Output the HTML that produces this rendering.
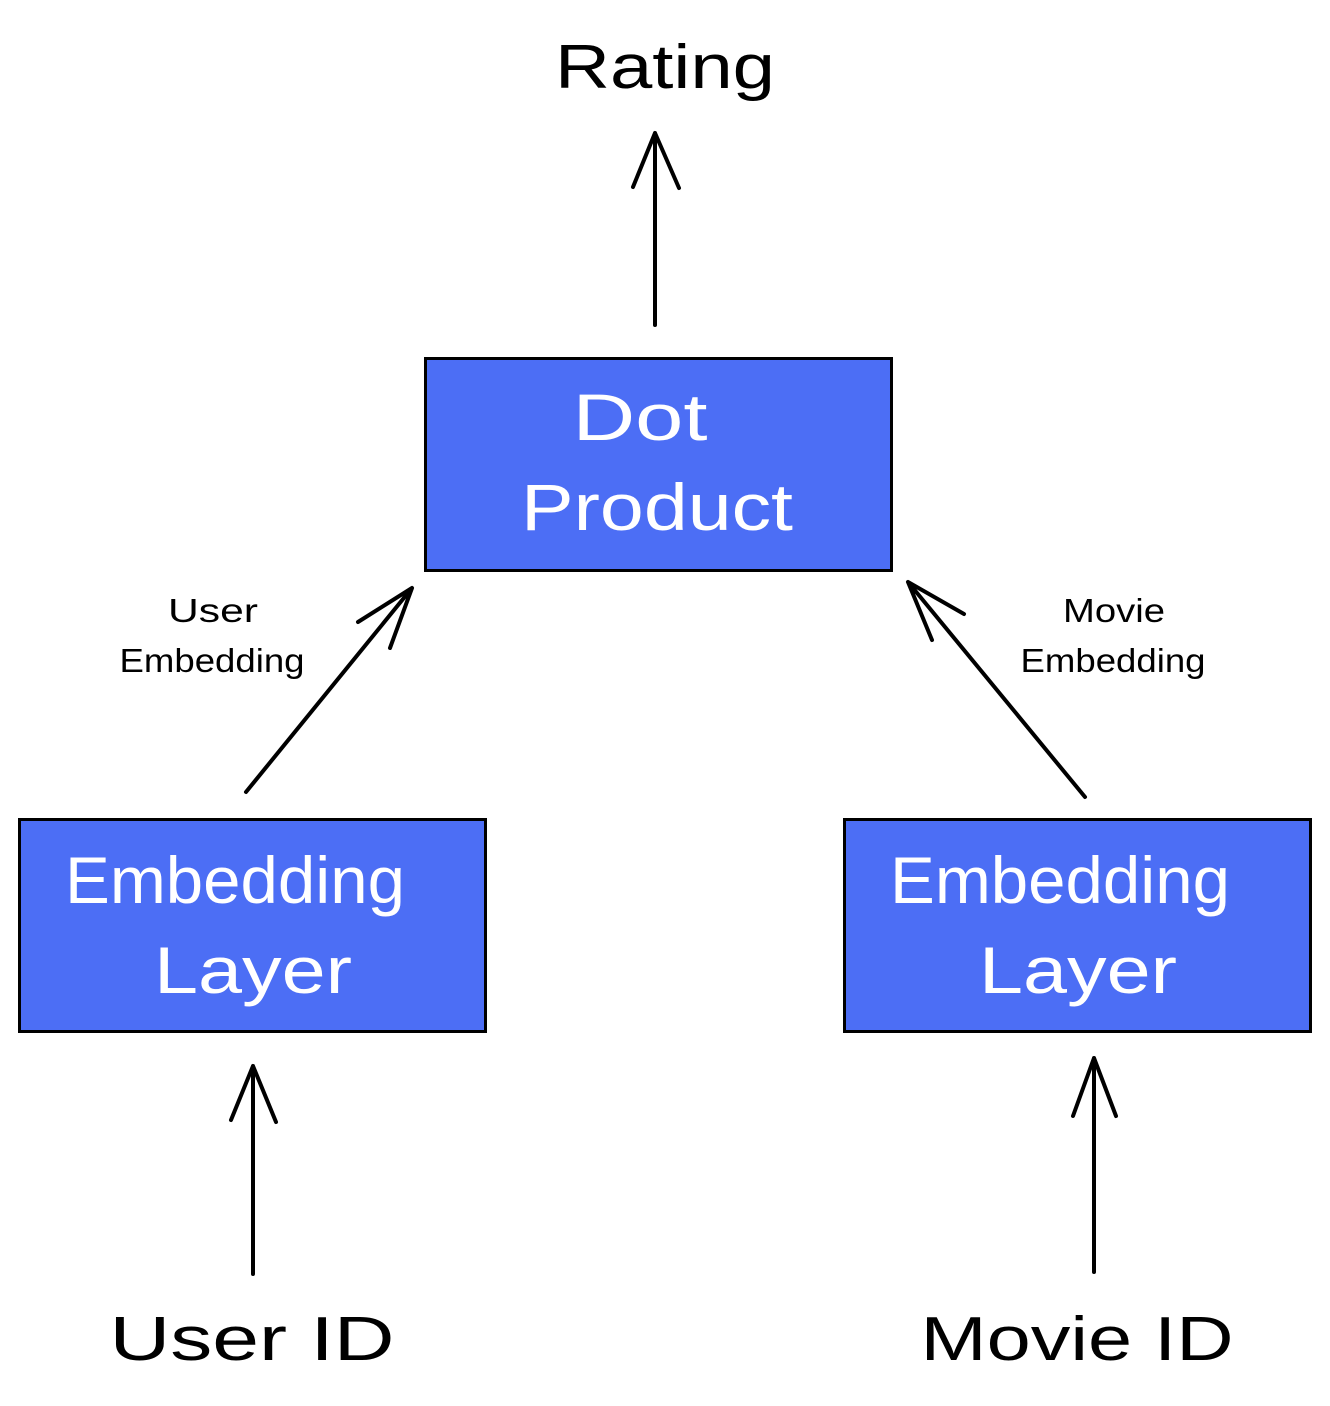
<!DOCTYPE html>
<html><head><meta charset="utf-8"><style>
html,body{margin:0;padding:0;background:#fff;}
svg{display:block;}
text{font-family:"Liberation Sans",sans-serif;}
</style></head><body>
<svg width="1330" height="1406" viewBox="0 0 1330 1406" xmlns="http://www.w3.org/2000/svg">
<rect width="1330" height="1406" fill="#fff"/>
<g fill="#4c6ef5" stroke="#000" stroke-width="3">
<rect x="425.5" y="358.5" width="466" height="212"/>
<rect x="19.5" y="819.5" width="466" height="212"/>
<rect x="844.5" y="819.5" width="466" height="212"/>
</g>
<g fill="#fff" font-size="66" text-anchor="middle" lengthAdjust="spacingAndGlyphs">
<text x="640" y="440" textLength="135" lengthAdjust="spacingAndGlyphs">Dot</text>
<text x="657" y="530" textLength="272" lengthAdjust="spacingAndGlyphs">Product</text>
<text x="235" y="903" textLength="340" lengthAdjust="spacingAndGlyphs">Embedding</text>
<text x="253" y="993" textLength="198" lengthAdjust="spacingAndGlyphs">Layer</text>
<text x="1060" y="903" textLength="340" lengthAdjust="spacingAndGlyphs">Embedding</text>
<text x="1078" y="993" textLength="198" lengthAdjust="spacingAndGlyphs">Layer</text>
</g>
<g fill="#000" text-anchor="middle">
<text x="665" y="88" font-size="62" textLength="220" lengthAdjust="spacingAndGlyphs">Rating</text>
<text x="252" y="1360" font-size="62" textLength="285" lengthAdjust="spacingAndGlyphs">User ID</text>
<text x="1077" y="1360" font-size="62" textLength="313" lengthAdjust="spacingAndGlyphs">Movie ID</text>
<text x="213" y="622" font-size="33" textLength="90" lengthAdjust="spacingAndGlyphs">User</text>
<text x="212" y="672" font-size="33" textLength="185" lengthAdjust="spacingAndGlyphs">Embedding</text>
<text x="1114" y="622" font-size="33" textLength="102" lengthAdjust="spacingAndGlyphs">Movie</text>
<text x="1113" y="672" font-size="33" textLength="185" lengthAdjust="spacingAndGlyphs">Embedding</text>
</g>
<g stroke="#000" stroke-width="4" fill="none" stroke-linecap="round" stroke-linejoin="round">
<path d="M655 325 L655 133 M633 187 L655 133 L679 188"/>
<path d="M246 792 L412 588 M358 622 L412 588 L390 648"/>
<path d="M1085 797 L908 582 M932 640 L908 582 L964 614"/>
<path d="M253 1274 L253 1066 M231 1120 L253 1066 L276 1122"/>
<path d="M1094 1272 L1094 1058 M1073 1116 L1094 1058 L1116 1116"/>
</g>
</svg>
</body></html>
